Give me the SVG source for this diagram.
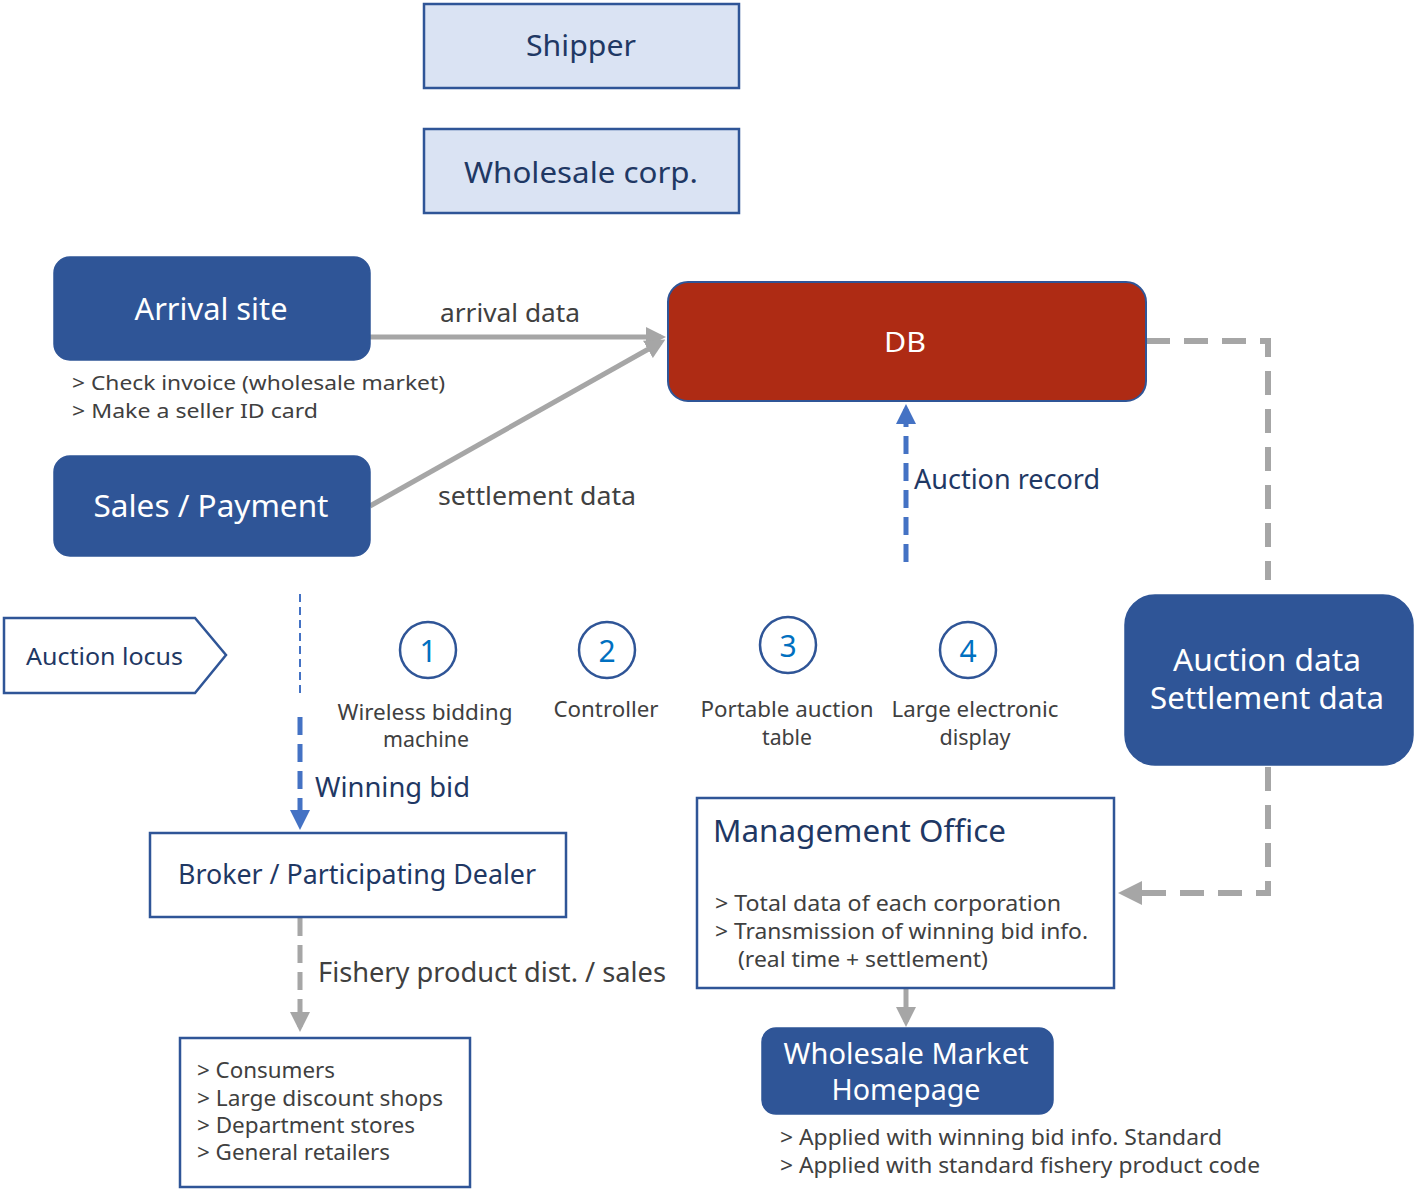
<svg xmlns="http://www.w3.org/2000/svg" width="1416" height="1191" viewBox="0 0 1416 1191">
<style>
text{font-family:"Noto Sans","Liberation Sans",sans-serif;}
.lt{fill:#dae3f3;stroke:#2f5597;stroke-width:2.5;}
.dk{fill:#2f5597;stroke:#2f5597;stroke-width:1.5;}
.wb{fill:#fff;stroke:#2f5597;stroke-width:2.5;}
.circ{fill:#fff;stroke:#2f5597;stroke-width:2.5;}
.tw{fill:#fff;}
.tb{fill:#1f3864;}
.tg{fill:#404040;}
.tn{fill:#0070c0;}
.gray{stroke:#a6a6a6;fill:none;}
.blue{stroke:#4472c4;fill:none;}
</style>
<defs>
<marker id="ag" markerWidth="4" markerHeight="4" refX="3" refY="2" orient="auto" markerUnits="strokeWidth"><path d="M0,0 L4,2 L0,4 Z" fill="#a6a6a6"/></marker>
<marker id="ab" markerWidth="4" markerHeight="4" refX="3" refY="2" orient="auto" markerUnits="strokeWidth"><path d="M0,0 L4,2 L0,4 Z" fill="#4472c4"/></marker>
</defs>

<g id="connectors">
<line class="gray" x1="370" y1="337" x2="661" y2="337" stroke-width="5" marker-end="url(#ag)"/>
<line class="gray" x1="370" y1="506" x2="661" y2="342" stroke-width="5" marker-end="url(#ag)"/>
<polyline class="gray" points="1146,341 1268,341 1268,580" stroke-width="6" stroke-dasharray="24,14"/>
<polyline class="gray" points="1268,767 1268,893 1124,893" stroke-width="6" stroke-dasharray="24,14" marker-end="url(#ag)"/>
<line class="blue" x1="906" y1="562" x2="906" y2="409" stroke-width="5" stroke-dasharray="18,9" marker-end="url(#ab)"/>
<line class="blue" x1="300" y1="594" x2="300" y2="695" stroke-width="2" stroke-dasharray="8,5"/>
<line class="blue" x1="300" y1="717" x2="300" y2="825" stroke-width="5" stroke-dasharray="18,9" marker-end="url(#ab)"/>
<line class="gray" x1="300" y1="918" x2="300" y2="1027" stroke-width="5" stroke-dasharray="18,9" marker-end="url(#ag)"/>
<line class="gray" x1="906" y1="989" x2="906" y2="1022" stroke-width="5" marker-end="url(#ag)"/>
<text class="tg" x="440" y="322" font-size="26" textLength="140" lengthAdjust="spacingAndGlyphs">arrival data</text>
<text class="tg" x="438" y="505" font-size="26" textLength="198" lengthAdjust="spacingAndGlyphs">settlement data</text>
<text class="tb" x="914" y="489" font-size="27" textLength="186" lengthAdjust="spacingAndGlyphs">Auction record</text>
<text class="tb" x="315" y="797" font-size="28" textLength="155" lengthAdjust="spacingAndGlyphs">Winning bid</text>
<text class="tg" x="318" y="982" font-size="27" textLength="348" lengthAdjust="spacingAndGlyphs">Fishery product dist. / sales</text>
</g>

<g id="shipper">
<rect class="lt" x="424" y="4" width="315" height="84"/>
<text class="tb" x="581" y="56" font-size="29" text-anchor="middle" textLength="110" lengthAdjust="spacingAndGlyphs">Shipper</text>
</g>
<g id="wholesale-corp">
<rect class="lt" x="424" y="129" width="315" height="84"/>
<text class="tb" x="581" y="183" font-size="29" text-anchor="middle" textLength="234" lengthAdjust="spacingAndGlyphs">Wholesale corp.</text>
</g>

<g id="arrival-site">
<rect class="dk" x="54" y="257" width="316" height="103" rx="16"/>
<text class="tw" x="211" y="320" font-size="30" text-anchor="middle" textLength="153" lengthAdjust="spacingAndGlyphs">Arrival site</text>
<text class="tg" x="72" y="390" font-size="20" textLength="373" lengthAdjust="spacingAndGlyphs">&gt; Check invoice (wholesale market)</text>
<text class="tg" x="72" y="418" font-size="20" textLength="246" lengthAdjust="spacingAndGlyphs">&gt; Make a seller ID card</text>
</g>

<g id="sales-payment">
<rect class="dk" x="54" y="456" width="316" height="100" rx="16"/>
<text class="tw" x="211" y="517" font-size="30" text-anchor="middle" textLength="235" lengthAdjust="spacingAndGlyphs">Sales / Payment</text>
</g>

<g id="db">
<rect x="668" y="282" width="478" height="119" rx="20" fill="#ae2b14" stroke="#2f5597" stroke-width="2"/>
<text class="tw" x="905" y="352" font-size="28" text-anchor="middle" textLength="42" lengthAdjust="spacingAndGlyphs">DB</text>
</g>

<g id="auction-settlement-data">
<rect class="dk" x="1125" y="595" width="288" height="170" rx="30"/>
<text class="tw" x="1267" y="671" font-size="30" text-anchor="middle" textLength="188" lengthAdjust="spacingAndGlyphs">Auction data</text>
<text class="tw" x="1267" y="709" font-size="30" text-anchor="middle" textLength="234" lengthAdjust="spacingAndGlyphs">Settlement data</text>
</g>

<g id="auction-locus">
<polygon points="4,618 195,618 226,655 195,693 4,693" fill="#fff" stroke="#2f5597" stroke-width="2.5"/>
<text class="tb" x="26" y="665" font-size="24" textLength="157" lengthAdjust="spacingAndGlyphs">Auction locus</text>
</g>

<g id="device-1">
<circle class="circ" cx="428" cy="650" r="28"/>
<text class="tn" x="428" y="662" font-size="30" text-anchor="middle">1</text>
<text class="tg" x="425" y="720" font-size="21" text-anchor="middle" textLength="175" lengthAdjust="spacingAndGlyphs">Wireless bidding</text>
<text class="tg" x="426" y="747" font-size="21" text-anchor="middle" textLength="86" lengthAdjust="spacingAndGlyphs">machine</text>
</g>
<g id="device-2">
<circle class="circ" cx="607" cy="650" r="28"/>
<text class="tn" x="607" y="662" font-size="30" text-anchor="middle">2</text>
<text class="tg" x="606" y="717" font-size="21" text-anchor="middle" textLength="105" lengthAdjust="spacingAndGlyphs">Controller</text>
</g>
<g id="device-3">
<circle class="circ" cx="788" cy="645" r="28"/>
<text class="tn" x="788" y="657" font-size="30" text-anchor="middle">3</text>
<text class="tg" x="787" y="717" font-size="21" text-anchor="middle" textLength="173" lengthAdjust="spacingAndGlyphs">Portable auction</text>
<text class="tg" x="787" y="745" font-size="21" text-anchor="middle" textLength="50" lengthAdjust="spacingAndGlyphs">table</text>
</g>
<g id="device-4">
<circle class="circ" cx="968" cy="650" r="28"/>
<text class="tn" x="968" y="662" font-size="30" text-anchor="middle">4</text>
<text class="tg" x="975" y="717" font-size="21" text-anchor="middle" textLength="167" lengthAdjust="spacingAndGlyphs">Large electronic</text>
<text class="tg" x="975" y="745" font-size="21" text-anchor="middle" textLength="71" lengthAdjust="spacingAndGlyphs">display</text>
</g>

<g id="broker">
<rect class="wb" x="150" y="833" width="416" height="84"/>
<text class="tb" x="357" y="884" font-size="28" text-anchor="middle" textLength="358" lengthAdjust="spacingAndGlyphs">Broker / Participating Dealer</text>
</g>

<g id="customers">
<rect class="wb" x="180" y="1038" width="290" height="149"/>
<text class="tg" x="197" y="1078" font-size="21" textLength="138" lengthAdjust="spacingAndGlyphs">&gt; Consumers</text>
<text class="tg" x="197" y="1106" font-size="21" textLength="246" lengthAdjust="spacingAndGlyphs">&gt; Large discount shops</text>
<text class="tg" x="197" y="1133" font-size="21" textLength="218" lengthAdjust="spacingAndGlyphs">&gt; Department stores</text>
<text class="tg" x="197" y="1160" font-size="21" textLength="193" lengthAdjust="spacingAndGlyphs">&gt; General retailers</text>
</g>

<g id="management-office">
<rect class="wb" x="697" y="798" width="417" height="190"/>
<text class="tb" x="713" y="842" font-size="30" textLength="293" lengthAdjust="spacingAndGlyphs">Management Office</text>
<text class="tg" x="715" y="911" font-size="21" textLength="346" lengthAdjust="spacingAndGlyphs">&gt; Total data of each corporation</text>
<text class="tg" x="715" y="939" font-size="21" textLength="373" lengthAdjust="spacingAndGlyphs">&gt; Transmission of winning bid info.</text>
<text class="tg" x="738" y="967" font-size="21" textLength="250" lengthAdjust="spacingAndGlyphs">(real time + settlement)</text>
</g>

<g id="homepage">
<rect class="dk" x="762" y="1028" width="291" height="86" rx="14"/>
<text class="tw" x="906" y="1064" font-size="29" text-anchor="middle" textLength="245" lengthAdjust="spacingAndGlyphs">Wholesale Market</text>
<text class="tw" x="906" y="1100" font-size="29" text-anchor="middle" textLength="149" lengthAdjust="spacingAndGlyphs">Homepage</text>
<text class="tg" x="780" y="1145" font-size="21" textLength="442" lengthAdjust="spacingAndGlyphs">&gt; Applied with winning bid info. Standard</text>
<text class="tg" x="780" y="1173" font-size="21" textLength="480" lengthAdjust="spacingAndGlyphs">&gt; Applied with standard fishery product code</text>
</g>
</svg>
